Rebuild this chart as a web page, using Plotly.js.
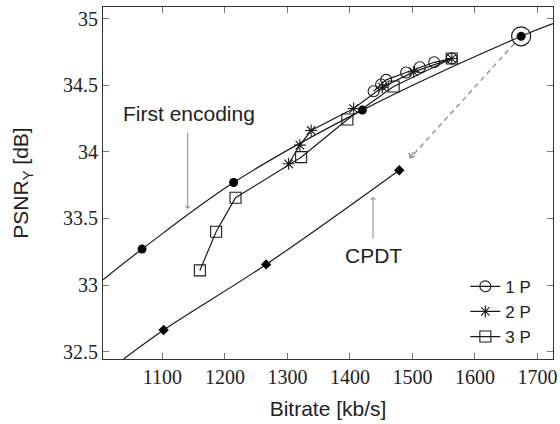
<!DOCTYPE html>
<html>
<head>
<meta charset="utf-8">
<script src="https://cdn.plot.ly/plotly-3.0.1.min.js"></script>
<style>html,body{margin:0;padding:0;background:#fff}#chart{width:560px;height:424px}</style>
</head>
<body>
<div id="chart"></div>
<script>
// First encoding (fitted curve and encoded points)
const firstCurveX = [1005, 1067.5, 1214, 1420, 1674, 1725];
const firstCurveY = [33.04, 33.27, 33.77, 34.313, 34.867, 34.962];
const firstPtsX = [1067.5, 1214, 1420, 1674];
const firstPtsY = [33.27, 33.77, 34.313, 34.867];
// CPDT
const cpdtCurveX = [1038, 1102, 1266, 1479];
const cpdtCurveY = [32.445, 32.663, 33.155, 33.862];
const cpdtPtsX = [1102, 1266, 1479];
const cpdtPtsY = [32.663, 33.155, 33.862];
// Passes
const p1X = [1438, 1450, 1458, 1490, 1512, 1535, 1563];
const p1Y = [34.455, 34.505, 34.54, 34.595, 34.635, 34.672, 34.70];
const p2X = [1302, 1320, 1338, 1406, 1452, 1502, 1563];
const p2Y = [33.91, 34.05, 34.16, 34.325, 34.485, 34.60, 34.70];
const p3X = [1160, 1186, 1217, 1322, 1396, 1470, 1563];
const p3Y = [33.11, 33.40, 33.655, 33.96, 34.243, 34.49, 34.70];
const seriesNames = ['1 P', '2 P', '3 P'];
// Start point and transfer arrow
const startX = [1674];
const startY = [34.867];
const transferX = [1663, 1496];
const transferY = [34.812, 33.95];
// Tick values
const xTicks = [1100, 1200, 1300, 1400, 1500, 1600, 1700];
const yTicks = [32.5, 33, 33.5, 34, 34.5, 35];

const lineCol = '#1a1a1a';
const grey = '#8a8a8a';

const traces = [
  {x: firstCurveX, y: firstCurveY, mode: 'lines', line: {color: lineCol, width: 1.2, shape: 'spline'}, showlegend: false, hoverinfo: 'skip'},
  {x: firstPtsX, y: firstPtsY, mode: 'markers', marker: {symbol: 'circle', size: 9, color: '#000'}, showlegend: false},
  {x: cpdtCurveX, y: cpdtCurveY, mode: 'lines', line: {color: lineCol, width: 1.2, shape: 'spline'}, showlegend: false, hoverinfo: 'skip'},
  {x: cpdtPtsX, y: cpdtPtsY, mode: 'markers', marker: {symbol: 'diamond', size: 8, color: '#000'}, showlegend: false},
  {x: transferX, y: transferY, mode: 'lines', line: {color: grey, width: 1.3, dash: '5px,4px'}, showlegend: false, hoverinfo: 'skip'},
  {x: p1X, y: p1Y, name: seriesNames[0], mode: 'lines+markers', line: {color: lineCol, width: 1.2},
   marker: {symbol: 'circle-open', size: 11, color: lineCol, line: {width: 1.1}}},
  {x: p2X, y: p2Y, name: seriesNames[1], mode: 'lines+markers', line: {color: lineCol, width: 1.2},
   marker: {symbol: 'asterisk-open', size: 10, color: lineCol, line: {width: 1.1}}},
  {x: p3X, y: p3Y, name: seriesNames[2], mode: 'lines+markers', line: {color: lineCol, width: 1.2},
   marker: {symbol: 'square-open', size: 11, color: lineCol, line: {width: 1.1}}},
  {x: startX, y: startY, mode: 'markers', marker: {symbol: 'circle-open', size: 19, color: lineCol, line: {width: 1.2}}, showlegend: false}
];

const serif = 'Liberation Serif, serif';
const sans = 'Liberation Sans, Arial, sans-serif';

const layout = {
  width: 560, height: 424,
  margin: {l: 103, r: 7, t: 7, b: 65},
  paper_bgcolor: '#fff', plot_bgcolor: '#fff',
  showlegend: true,
  legend: {x: 0.963, xanchor: 'right', y: 0.012, yanchor: 'bottom', bgcolor: 'rgba(0,0,0,0)',
           font: {family: sans, size: 17, color: '#222'}, tracegroupgap: 0},
  xaxis: {range: [1005, 1725], tickvals: xTicks, ticks: 'inside', ticklen: 6, tickcolor: '#777',
          showline: true, linecolor: '#333', linewidth: 1, mirror: 'allticks', showgrid: false, zeroline: false,
          tickfont: {family: serif, size: 20, color: '#222'},
          title: {text: 'Bitrate [kb/s]', font: {family: sans, size: 21, color: '#222'}, standoff: 14}},
  yaxis: {range: [32.445, 35.087], tickvals: yTicks, ticktext: yTicks.map(String), ticks: 'inside', ticklen: 6, tickcolor: '#777',
          showline: true, linecolor: '#333', linewidth: 1, mirror: 'allticks', showgrid: false, zeroline: false,
          tickfont: {family: serif, size: 20, color: '#222'},
          title: {text: 'PSNR<sub>Y</sub> [dB]', font: {family: sans, size: 21, color: '#222'}, standoff: 28}},
  annotations: [
    {x: 1142, y: 34.29, text: 'First encoding', showarrow: false, font: {family: sans, size: 21, color: '#222'}},
    {x: 1140.5, y: 33.57, ax: 1140.5, ay: 34.155, axref: 'x', ayref: 'y', text: '', showarrow: true,
     arrowhead: 4, arrowsize: 0.9, arrowwidth: 1, arrowcolor: grey, standoff: 0},
    {x: 1437, y: 33.22, text: 'CPDT', showarrow: false, font: {family: sans, size: 21, color: '#222'}},
    {x: 1437, y: 33.662, ax: 1437, ay: 33.337, axref: 'x', ayref: 'y', text: '', showarrow: true,
     arrowhead: 4, arrowsize: 0.9, arrowwidth: 1, arrowcolor: grey, standoff: 0},
    {x: 1496, y: 33.95, ax: 1503, ay: 34.01, axref: 'x', ayref: 'y', text: '', showarrow: true,
     arrowhead: 4, arrowsize: 1, arrowwidth: 1.3, arrowcolor: grey, standoff: 0}
  ]
};

Plotly.newPlot('chart', traces, layout, {staticPlot: true, displayModeBar: false});
</script>
</body>
</html>
